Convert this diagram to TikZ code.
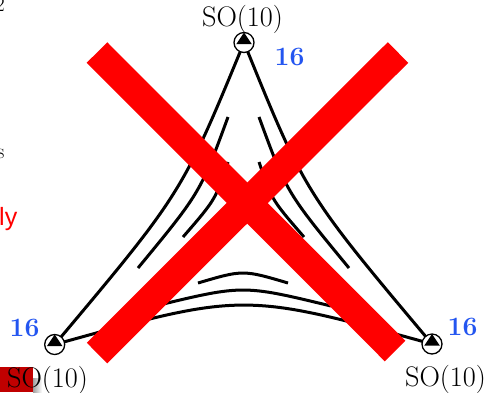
\documentclass[tikz,border=0pt]{standalone}
\usepackage{fontspec}
\newfontfamily\sansfam{Liberation Sans}
\pgfdeclarelayer{bg}
\pgfsetlayers{bg,main}
\definecolor{labblue}{RGB}{35,85,240}
\definecolor{boxred}{RGB}{192,0,0}
\begin{document}
\begin{tikzpicture}[x=1pt,y=-1pt,
  strand/.style={line width=3pt, black},
  sonode/.style={circle, draw=black, fill=white, line width=1.3pt,
    minimum size=20pt, inner sep=0pt,
    path picture={\fill[black]
      ([yshift=10pt]path picture bounding box.center) --
      ([xshift=-7.8pt,yshift=-1.7pt]path picture bounding box.center) --
      ([xshift=7.8pt,yshift=-1.7pt]path picture bounding box.center) -- cycle;}},
  grp/.style={font=\fontsize{28.3}{31}\selectfont, inner sep=0pt, anchor=base},
  rep/.style={font=\fontsize{26.5}{29}\selectfont\bfseries, text=labblue, inner sep=0pt, anchor=base},
  cross/.style={line width=29pt, red},
  edgetxt/.style={font=\fontsize{21}{24}\selectfont, inner sep=0pt}]
\useasboundingbox (0,0) rectangle (489,392);

% fragments of the neighbouring panel
\begin{pgfonlayer}{bg}
  \fill[boxred] (0,367) rectangle (33,392);
  \shade[left color=gray!75, right color=white] (33,378) rectangle (42,392);
\end{pgfonlayer}
\node[edgetxt, anchor=south east] (frag2) at (5,12) {2};
\node[edgetxt, anchor=base east] (frags) at (4.5,158) {s};
\node[font=\sansfam\fontsize{25}{28}\selectfont, text=red, inner sep=0pt, anchor=base east] (fragly) at (17.5,225) {ly};

% group nodes
\node[sonode] (t) at (244,42.5) {};
\node[sonode] (bl) at (54.7,344.5) {};
\node[sonode] (br) at (432,344) {};

% labels
\node[grp] (tlab) at (242.5,26.5) {SO(10)};
\node[grp] (bllab) at (47.5,387) {SO(10)};
\node[grp] (brlab) at (445.5,386) {SO(10)};
\node[rep] (trep) at (289.5,65.5) {16};
\node[rep] (blrep) at (24.5,336) {16};
\node[rep] (brrep) at (462.5,335.5) {16};

% strands
\begin{pgfonlayer}{bg}
  \draw[strand] (t.center) .. controls (182,193) .. (bl.center);
  \draw[strand] (t.center) .. controls (305,193) .. (br.center);
  \draw[strand] (bl.center) .. controls (243.5,292) .. (br.center);
  \draw[strand] (228,117) .. controls (200.3,192.5) .. (138,268);
  \draw[strand] (228,162) .. controls (215.5,199.5) .. (183,237);
  \draw[strand] (259,117) .. controls (286.7,192.5) .. (349,268);
  \draw[strand] (259,162) .. controls (271.5,199.5) .. (304,237);
  \draw[strand] (155,306) .. controls (243,284.7) .. (331,306);
  \draw[strand] (198,283) .. controls (243,269.7) .. (288,283);
\end{pgfonlayer}

% red cross
\draw[cross] (97,52.5) -- (395,351);
\draw[cross] (398,52.5) -- (97,353);
\end{tikzpicture}
\end{document}
